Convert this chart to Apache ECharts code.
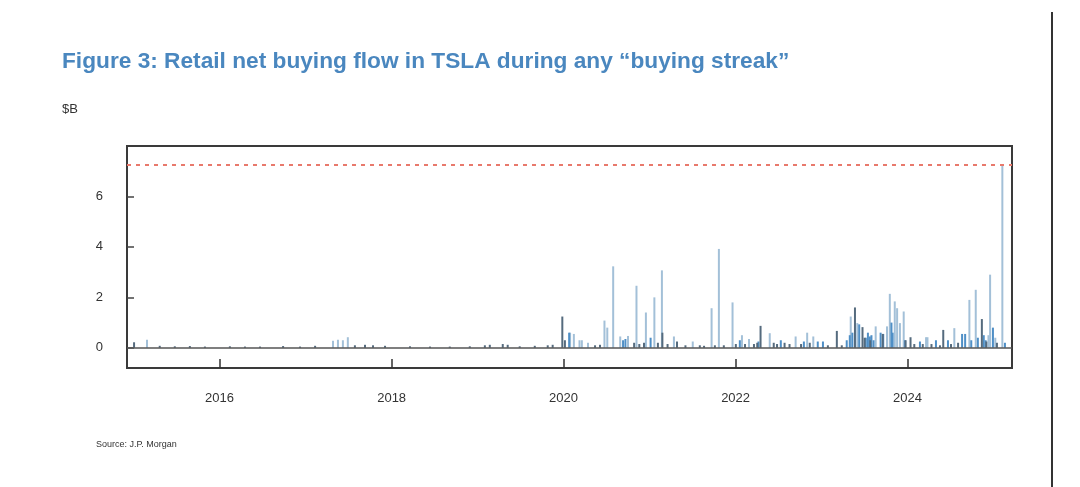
<!DOCTYPE html>
<html>
<head>
<meta charset="utf-8">
<script src="https://cdn.jsdelivr.net/npm/echarts@6/dist/echarts.min.js"></script>
<style>
  html, body { margin: 0; padding: 0; background: #fff; }
  #chart { width: 1080px; height: 487px; }
</style>
</head>
<body>
<div id="chart"></div>
<script>
// tick labels
const yTicks = [0, 2, 4, 6]
const xYears = [2016, 2018, 2020, 2022, 2024]
const peakLevel = 7.26

// light grey-blue spikes (the tall ones)
const lightSpikes = [
  ['2015-02-27', 0.32], ['2017-04-27', 0.28], ['2017-05-18', 0.32], ['2017-06-08', 0.30], ['2017-06-29', 0.42],
  ['2020-01-29', 0.60], ['2020-02-14', 0.55], ['2020-03-09', 0.30], ['2020-03-19', 0.30], ['2020-04-14', 0.20],
  ['2020-06-23', 1.08], ['2020-07-05', 0.80], ['2020-07-30', 3.23], ['2020-08-29', 0.45], ['2020-10-01', 0.47],
  ['2020-11-06', 2.46], ['2020-12-16', 1.40], ['2021-01-21', 2.00], ['2021-02-22', 3.07], ['2021-04-14', 0.45],
  ['2021-07-03', 0.25], ['2021-09-21', 1.57], ['2021-10-22', 3.92], ['2021-12-19', 1.80], ['2022-01-28', 0.50],
  ['2022-02-27', 0.35], ['2022-05-26', 0.58], ['2022-09-13', 0.45], ['2022-11-01', 0.60], ['2022-11-27', 0.45],
  ['2023-05-05', 1.24], ['2023-06-02', 0.98], ['2023-08-19', 0.85], ['2023-10-06', 0.85], ['2023-10-18', 2.14],
  ['2023-11-08', 1.84], ['2023-11-18', 1.57], ['2023-11-30', 0.98], ['2023-12-16', 1.44], ['2024-03-20', 0.42],
  ['2024-03-26', 0.42], ['2024-07-18', 0.78], ['2024-09-20', 1.90], ['2024-10-17', 2.30], ['2024-12-10', 0.50],
  ['2024-12-17', 2.90], ['2025-01-08', 0.40], ['2025-02-07', 7.26]
]

// mid-blue spikes
const blueSpikes = [
  ['2020-01-25', 0.60], ['2020-09-10', 0.30], ['2020-09-20', 0.35], ['2021-01-05', 0.40], ['2022-01-19', 0.30],
  ['2022-04-08', 0.25], ['2022-07-12', 0.30], ['2022-10-18', 0.25], ['2022-12-16', 0.25], ['2023-01-07', 0.25],
  ['2023-04-18', 0.30], ['2023-05-01', 0.50], ['2023-05-12', 0.60], ['2023-06-10', 0.93], ['2023-07-08', 0.40],
  ['2023-07-17', 0.60], ['2023-07-25', 0.45], ['2023-08-01', 0.50], ['2023-08-10', 0.30], ['2023-09-09', 0.60],
  ['2023-09-20', 0.55], ['2023-10-25', 1.00], ['2023-10-30', 0.60], ['2023-12-22', 0.30], ['2024-02-23', 0.25],
  ['2024-05-01', 0.30], ['2024-06-21', 0.30], ['2024-08-20', 0.55], ['2024-09-02', 0.55], ['2024-09-28', 0.30],
  ['2024-10-26', 0.40], ['2024-11-20', 0.50], ['2024-11-28', 0.30], ['2024-12-29', 0.80], ['2025-02-18', 0.20]
]

// dark slate spikes and the low background bars
const darkSpikes = [
  ['2015-01-03', 0.22], ['2015-04-22', 0.08], ['2015-06-25', 0.06], ['2015-08-28', 0.07], ['2015-10-31', 0.05],
  ['2016-02-14', 0.06], ['2016-04-18', 0.05], ['2016-06-21', 0.05], ['2016-09-27', 0.07], ['2016-12-08', 0.05],
  ['2017-02-10', 0.08], ['2017-07-29', 0.10], ['2017-09-10', 0.12], ['2017-10-14', 0.10], ['2017-12-04', 0.08],
  ['2018-03-20', 0.06], ['2018-06-13', 0.05], ['2018-09-05', 0.05], ['2018-11-29', 0.06], ['2019-02-01', 0.10],
  ['2019-02-22', 0.12], ['2019-04-18', 0.15], ['2019-05-09', 0.12], ['2019-06-29', 0.06], ['2019-09-01', 0.08],
  ['2019-10-26', 0.10], ['2019-11-16', 0.12], ['2019-12-27', 1.24], ['2020-01-07', 0.30], ['2020-05-14', 0.10],
  ['2020-06-04', 0.12], ['2020-10-27', 0.20], ['2020-11-18', 0.15], ['2020-12-08', 0.20], ['2021-02-05', 0.20],
  ['2021-02-24', 0.60], ['2021-03-18', 0.15], ['2021-04-27', 0.25], ['2021-06-02', 0.10], ['2021-08-02', 0.10],
  ['2021-08-20', 0.08], ['2021-10-05', 0.10], ['2021-11-12', 0.10], ['2022-01-02', 0.15], ['2022-02-10', 0.15],
  ['2022-03-20', 0.15], ['2022-04-03', 0.20], ['2022-04-17', 0.87], ['2022-06-12', 0.20], ['2022-06-26', 0.15],
  ['2022-07-28', 0.20], ['2022-08-18', 0.15], ['2022-10-06', 0.15], ['2022-11-12', 0.20], ['2023-01-28', 0.10],
  ['2023-03-07', 0.67], ['2023-03-28', 0.10], ['2023-05-23', 1.60], ['2023-06-24', 0.82], ['2023-07-03', 0.40],
  ['2023-07-27', 0.30], ['2023-09-18', 0.55], ['2023-12-24', 0.30], ['2024-01-14', 0.42], ['2024-01-30', 0.15],
  ['2024-03-06', 0.15], ['2024-04-12', 0.15], ['2024-05-18', 0.10], ['2024-06-01', 0.71], ['2024-07-04', 0.15],
  ['2024-08-03', 0.20], ['2024-11-12', 1.14], ['2024-12-01', 0.25], ['2025-01-15', 0.20]
]

const chart = echarts.init(document.getElementById('chart'))

// x axis is a plain value axis holding UTC timestamps
const yearStamp = y => Date.UTC(y, 0, 1)
const toPoints = list => list.map(d => [Date.parse(d[0]), d[1]])

const spikeSeries = (name, data, color) => ({
  name: name,
  type: 'bar',
  data: toPoints(data),
  barWidth: 2,
  barGap: '-100%',
  itemStyle: { color: color },
  silent: true
})

const option = {
  animation: false,
  backgroundColor: '#fff',
  textStyle: { fontFamily: 'Liberation Sans, Arial, sans-serif' },
  title: [
    {
      text: 'Figure 3: Retail net buying flow in TSLA during any \u201cbuying streak\u201d',
      left: 57,
      top: 45,
      textStyle: { fontSize: 22.7, fontWeight: 'bold', color: '#4a87bf', fontFamily: 'Liberation Sans, Arial, sans-serif' }
    },
    {
      text: '$B',
      left: 57,
      top: 98,
      textStyle: { fontSize: 13, fontWeight: 'normal', color: '#333' }
    },
    {
      text: 'Source: J.P. Morgan',
      left: 91,
      top: 435,
      textStyle: { fontSize: 9, fontWeight: 'normal', color: '#333' }
    }
  ],
  grid: {
    left: 127,
    top: 146,
    right: 68,
    bottom: 119,
    show: true,
    borderColor: '#3a3a3a',
    borderWidth: 2
  },
  xAxis: {
    type: 'value',
    min: Date.parse('2014-12-04'),
    max: Date.parse('2025-03-20'),
    axisLine: { show: false, onZero: false },
    splitLine: { show: false },
    axisTick: {
      show: true,
      inside: true,
      length: 9,
      customValues: xYears.map(yearStamp),
      lineStyle: { color: '#333', width: 1.5 }
    },
    axisLabel: {
      customValues: xYears.map(yearStamp),
      formatter: v => String(new Date(v).getUTCFullYear()),
      margin: 24,
      fontSize: 13,
      color: '#333'
    }
  },
  yAxis: {
    type: 'value',
    min: -0.8,
    max: 8,
    axisLine: { show: false },
    splitLine: { show: false },
    axisTick: {
      show: true,
      inside: true,
      length: 7,
      customValues: yTicks,
      lineStyle: { color: '#444', width: 1.5 }
    },
    axisLabel: {
      customValues: yTicks,
      margin: 24,
      fontSize: 13,
      color: '#333'
    }
  },
  series: [
    spikeSeries('light', lightSpikes, '#a3c0d8'),
    spikeSeries('blue', blueSpikes, '#4f8fc6'),
    Object.assign(spikeSeries('dark', darkSpikes, '#556b7e'), {
      markLine: {
        silent: true,
        symbol: 'none',
        label: { show: false },
        data: [
          { yAxis: 0, lineStyle: { color: '#555', width: 1.5, type: 'solid' } },
          { yAxis: peakLevel, lineStyle: { color: '#e8796c', width: 2, type: [4, 5] } }
        ]
      }
    })
  ],
  graphic: [
    {
      type: 'line',
      shape: { x1: 1052, y1: 12, x2: 1052, y2: 487 },
      style: { stroke: '#333', lineWidth: 2 },
      silent: true
    }
  ]
}

chart.setOption(option)
</script>
</body>
</html>
